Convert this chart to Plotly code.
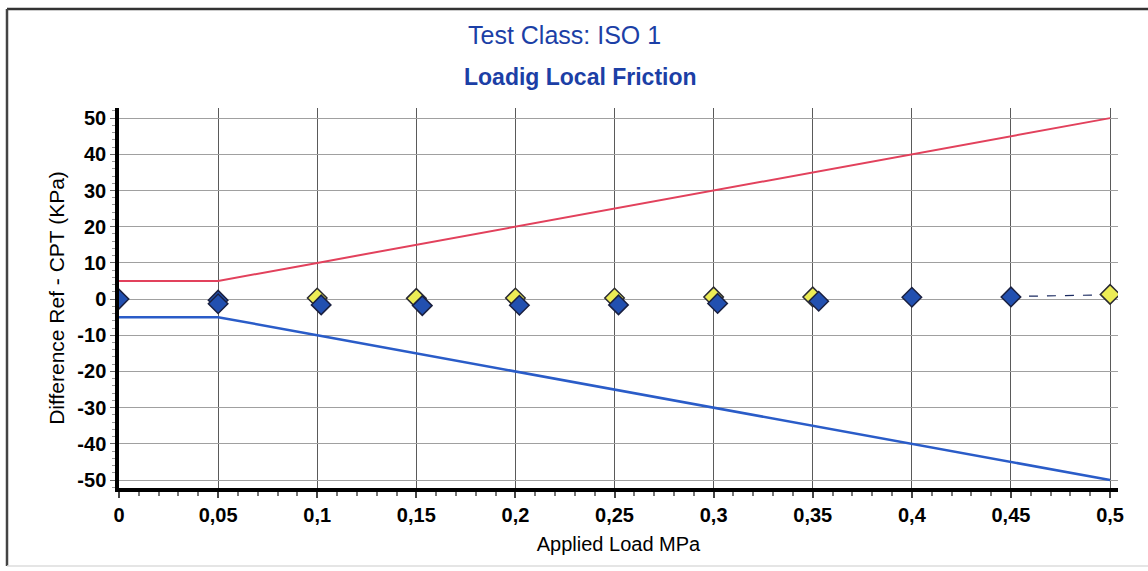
import plotly.graph_objects as go

# ---- data ----
limit_x = [0, 0.05, 0.1, 0.15, 0.2, 0.25, 0.3, 0.35, 0.4, 0.45, 0.5]
upper_limit = [5, 5, 10, 15, 20, 25, 30, 35, 40, 45, 50]
lower_limit = [-5, -5, -10, -15, -20, -25, -30, -35, -40, -45, -50]

yellow_x = [0.1, 0.15, 0.2, 0.25, 0.3, 0.35, 0.5]
yellow_y = [0.3, 0.2, 0.3, 0.3, 0.6, 0.6, 1.3]

blue_x = [0, 0.05, 0.05, 0.102, 0.153, 0.202, 0.252, 0.302, 0.353, 0.4, 0.45]
blue_y = [0, -0.3, -1.3, -1.6, -1.8, -1.7, -1.6, -1.2, -0.6, 0.5, 0.6]

dash_x = [0.45, 0.5]
dash_y = [0.7, 1.2]

x_ticks = [0, 0.05, 0.1, 0.15, 0.2, 0.25, 0.3, 0.35, 0.4, 0.45, 0.5]
x_labels = ["0", "0,05", "0,1", "0,15", "0,2", "0,25", "0,3", "0,35", "0,4", "0,45", "0,5"]
y_ticks = [50, 40, 30, 20, 10, 0, -10, -20, -30, -40, -50]
y_labels = ["50", "40", "30", "20", "10", "0", "-10", "-20", "-30", "-40", "-50"]

title1 = "Test Class: ISO 1"
title2 = "Loadig Local Friction"
x_title = "Applied Load MPa"
y_title = "Difference Ref - CPT (KPa)"

FONT = "Liberation Sans, Arial, sans-serif"
TITLE_BLUE = "#1c3fa6"

W, H = 1148, 571
L, R, T, B = 119, 30, 108, 83
PW, PH = W - L - R, H - T - B


def px(x):
    return (x - L) / PW


def py(y):
    return (H - B - y) / PH


fig = go.Figure()
fig.add_trace(go.Scatter(x=limit_x, y=upper_limit, mode="lines",
                         line=dict(color="#e2415c", width=2), showlegend=False))
fig.add_trace(go.Scatter(x=limit_x, y=lower_limit, mode="lines",
                         line=dict(color="#2a5cc8", width=2.5), showlegend=False))
fig.add_trace(go.Scatter(x=dash_x, y=dash_y, mode="lines",
                         line=dict(color="#1a2a60", width=1.2, dash="dash"), showlegend=False))
fig.add_trace(go.Scatter(x=yellow_x, y=yellow_y, mode="markers",
                         marker=dict(symbol="diamond", size=15, color="#ecec55",
                                     line=dict(color="#2a2a30", width=1.5)),
                         showlegend=False))
fig.add_trace(go.Scatter(x=blue_x, y=blue_y, mode="markers",
                         marker=dict(symbol="diamond", size=15, color="#2250b0",
                                     line=dict(color="#1a2040", width=1.5)),
                         showlegend=False))

tickfont = dict(size=20, family=FONT, color="black", weight="bold")

fig.update_layout(
    width=W, height=H,
    margin=dict(l=L, r=R, t=T, b=B),
    paper_bgcolor="white", plot_bgcolor="white",
    font=dict(family=FONT, color="black"),
    showlegend=False,
    xaxis=dict(range=[0, 0.504], tickvals=x_ticks, ticktext=x_labels,
               tickfont=tickfont,
               showgrid=True, gridcolor="#5a5a5a", gridwidth=1.3,
               showline=True, linecolor="black", linewidth=3.5,
               ticks="outside", ticklen=6, tickcolor="#444", tickwidth=1.5,
               minor=dict(dtick=0.01, ticks="outside", ticklen=4, tickcolor="#777", showgrid=False),
               zeroline=False,
               title=dict(text=x_title, font=dict(size=20, family=FONT, color="black"), standoff=13)),
    yaxis=dict(range=[-52.2, 52.8], tickvals=y_ticks, ticktext=y_labels,
               tickfont=tickfont,
               showgrid=True, gridcolor="#a0a0a0", gridwidth=1.3,
               showline=True, linecolor="black", linewidth=3.5,
               ticks="outside", ticklen=5, tickcolor="#666", tickwidth=1.2,
               minor=dict(dtick=2, ticks="outside", ticklen=3, tickcolor="#999", showgrid=False),
               zeroline=False,
               title=dict(text=y_title, font=dict(size=21, family=FONT, color="black"), standoff=8)),
    annotations=[
        dict(text=title1, xref="paper", yref="paper", x=px(564), y=py(35),
             xanchor="center", yanchor="middle", showarrow=False,
             font=dict(size=25, family=FONT, color=TITLE_BLUE)),
        dict(text="<b>" + title2 + "</b>", xref="paper", yref="paper", x=px(580), y=py(77),
             xanchor="center", yanchor="middle", showarrow=False,
             font=dict(size=23, family=FONT, color=TITLE_BLUE)),
    ],
    shapes=[
        dict(type="line", xref="paper", yref="paper", x0=px(7), x1=px(1148), y0=py(9), y1=py(9),
             line=dict(color="#333", width=2.5), layer="below"),
        dict(type="line", xref="paper", yref="paper", x0=px(7), x1=px(7), y0=py(9), y1=py(566),
             line=dict(color="#444", width=2.5), layer="below"),
        dict(type="line", xref="paper", yref="paper", x0=px(7), x1=px(1148), y0=py(566), y1=py(566),
             line=dict(color="#dddddd", width=1.5), layer="below"),
    ],
)

fig.write_html("out.html", config={"displayModeBar": False},
               post_script="document.body.style.margin='0';")
